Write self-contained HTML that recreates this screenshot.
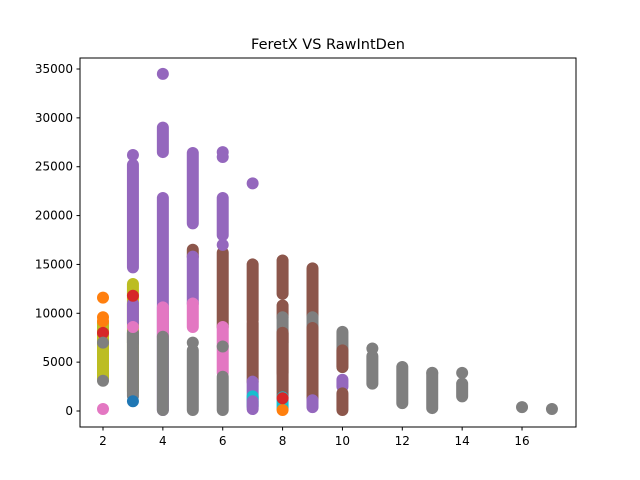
<!DOCTYPE html>
<html><head><meta charset="utf-8"><style>
body{margin:0;background:#fff}
svg{display:block;font-family:"DejaVu Sans","Liberation Sans",sans-serif}
</style></head><body>
<svg id="chart" width="640" height="480">
<rect width="640" height="480" fill="#fff"/>
<text x="328" y="49" text-anchor="middle" font-size="14.5">FeretX VS RawIntDen</text>
<g id="marks"></g>
<g id="axes"></g>
</svg>
<script>
const C={blue:'#1f77b4',orange:'#ff7f0e',green:'#2ca02c',red:'#d62728',purple:'#9467bd',brown:'#8c564b',pink:'#e377c2',gray:'#7f7f7f',olive:'#bcbd22',cyan:'#17becf'};
// dense runs of points: x value, low y, high y, series colour
const segX=[2,3,3,3,3,3,4,4,4,4,5,5,5,5,5,5,6,6,6,6,7,7,7,7,7,8,8,8,8,8,8,9,9,9,9,10,10,10,10,11,12,13,14];
const segLo=[3300,2000,14700,9000,1500,7000,26500,100,7600,100,19200,15800,11000,8600,100,7000,18000,8600,3900,100,9300,3000,1200,500,200,12000,9600,7000,1400,3900,300,9600,7500,1100,400,4500,4500,2500,100,2800,800,300,1500];
const segHi=[9000,13000,25200,11000,8000,8000,29000,21800,10600,7600,26400,16500,15800,11000,6200,7000,21800,16200,8600,3500,15000,9000,3000,1500,1000,15400,10800,9600,8000,8000,1400,14600,9600,8500,1100,8100,6200,3200,1800,5600,4500,3900,2800];
const segColor=['olive','olive','purple','purple','gray','gray','purple','purple','pink','gray','purple','brown','purple','pink','gray','gray','purple','brown','pink','gray','brown','brown','purple','cyan','purple','brown','brown','gray','brown','brown','cyan','brown','gray','brown','purple','gray','brown','purple','brown','gray','gray','gray','gray'];
// isolated points
const ptX=[2,2,2,2,2,2,2,3,3,3,3,4,6,6,6,6,7,8,8,11,13,14,16,17];
const ptY=[11600,9600,9200,8000,3100,7000,200,1000,11800,8600,26200,34500,26500,26000,17000,6600,23300,100,1300,6400,3900,3900,400,200];
const ptColor=['orange','orange','orange','red','gray','gray','pink','blue','red','pink','purple','purple','purple','purple','purple','gray','purple','orange','red','gray','gray','gray','gray','gray'];
const yTicks=[0,5000,10000,15000,20000,25000,30000,35000];
const xTicks=[2,4,6,8,10,12,14,16];
const NS='http://www.w3.org/2000/svg';
const sx=v=>103+(v-2)*29.93, sy=v=>411-v*0.009771;
const marks=document.getElementById('marks'), axes=document.getElementById('axes');
function mk(tag,attrs,parent){const e=document.createElementNS(NS,tag);for(const k in attrs)e.setAttribute(k,attrs[k]);parent.appendChild(e);return e;}
segX.forEach((x,i)=>{
  const l=mk('line',{x1:sx(x),x2:sx(x),y1:sy(segLo[i]),y2:sy(segHi[i]),stroke:C[segColor[i]],'stroke-width':12,'stroke-linecap':'round'},marks);
  
  
});
ptX.forEach((x,i)=>{
  const c=mk('circle',{cx:sx(x),cy:sy(ptY[i]),r:6,fill:C[ptColor[i]]},marks);
  
  
});
const frame=mk('rect',{x:80,y:58,width:496,height:369,fill:'none',stroke:'#000','stroke-width':1},axes);


yTicks.forEach(v=>{
  const y=sy(v);
  mk('line',{x1:76.5,x2:80,y1:y,y2:y,stroke:'#000'},axes);
  const t=mk('text',{x:73,y:y+4,'text-anchor':'end','font-size':12},axes);
  t.textContent=v;
  
  
});
xTicks.forEach(v=>{
  const x=sx(v);
  mk('line',{x1:x,x2:x,y1:427,y2:430.5,stroke:'#000'},axes);
  const t=mk('text',{x:x,y:445,'text-anchor':'middle','font-size':12},axes);
  t.textContent=v;
  
  
});
</script>
</body></html>
